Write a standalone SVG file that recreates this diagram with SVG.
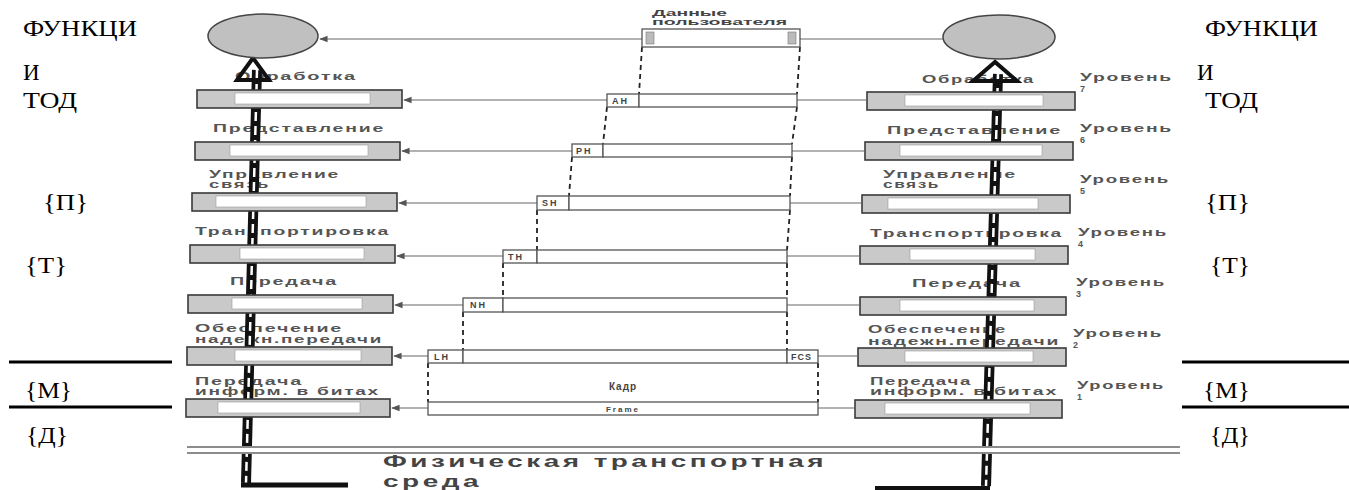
<svg xmlns="http://www.w3.org/2000/svg" width="1349" height="490" viewBox="0 0 1349 490">
<defs>
<style>
.side{font-family:"Liberation Serif","Times New Roman",serif;font-size:23px;fill:#000}
.lbl{font-family:"Liberation Sans",Arial,sans-serif;font-size:11px;font-weight:bold;fill:#555;letter-spacing:1px}
.dig{font-family:"Liberation Sans",Arial,sans-serif;font-size:9px;font-weight:bold;fill:#555}
.hdr{font-family:"Liberation Sans",Arial,sans-serif;font-size:9px;font-weight:bold;fill:#444;letter-spacing:2px}
.box{fill:#c9c9c9;stroke:#3a3a3a;stroke-width:1.6}
.inner{fill:#fff;stroke:#999;stroke-width:0.6}
.mbox{fill:#fff;stroke:#555;stroke-width:1.3}
.conn{stroke:#666;stroke-width:1.2;fill:none}
.dash{stroke:#222;stroke-width:1.8;stroke-dasharray:5 4;fill:none}
.rule{stroke:#000;stroke-width:3}
.ell{fill:#c0c0c0;stroke:#444;stroke-width:1.5}
.bar{stroke:#111;stroke-width:10;fill:none}
.barin{stroke:#fff;stroke-width:2.5;stroke-dasharray:9 5;fill:none}
.phys{font-family:"Liberation Sans",Arial,sans-serif;font-size:16px;font-weight:bold;fill:#444;letter-spacing:2px}
.ground{stroke:#666;stroke-width:1.5;fill:none}
</style>
<marker id="ah" viewBox="0 0 10 10" refX="9" refY="5" markerWidth="7" markerHeight="7" orient="auto"><path d="M0,1 L10,5 L0,9 z" fill="#555"/></marker>
</defs>
<rect width="1349" height="490" fill="#fff"/>

<g id="side-left">
<text class="side" x="23" y="36" textLength="114" lengthAdjust="spacingAndGlyphs">ФУНКЦИ</text>
<text class="side" x="23" y="80">И</text>
<text class="side" x="23" y="108" textLength="54" lengthAdjust="spacingAndGlyphs">ТОД</text>
<text class="side" x="43" y="210" textLength="45" lengthAdjust="spacingAndGlyphs">{П}</text>
<text class="side" x="25" y="273" textLength="42" lengthAdjust="spacingAndGlyphs">{Т}</text>
<line class="rule" x1="9" y1="362" x2="172" y2="362"/>
<text class="side" x="25" y="398" textLength="47" lengthAdjust="spacingAndGlyphs">{М}</text>
<line class="rule" x1="9" y1="407" x2="172" y2="407"/>
<text class="side" x="26" y="443" textLength="42" lengthAdjust="spacingAndGlyphs">{Д}</text>
</g>

<g id="side-right">
<text class="side" x="1205" y="36" textLength="113" lengthAdjust="spacingAndGlyphs">ФУНКЦИ</text>
<text class="side" x="1197" y="80">И</text>
<text class="side" x="1205" y="108" textLength="53" lengthAdjust="spacingAndGlyphs">ТОД</text>
<text class="side" x="1205" y="210" textLength="45" lengthAdjust="spacingAndGlyphs">{П}</text>
<text class="side" x="1210" y="273" textLength="40" lengthAdjust="spacingAndGlyphs">{Т}</text>
<line class="rule" x1="1182" y1="362" x2="1349" y2="362"/>
<text class="side" x="1203" y="398" textLength="47" lengthAdjust="spacingAndGlyphs">{М}</text>
<line class="rule" x1="1182" y1="407" x2="1349" y2="407"/>
<text class="side" x="1210" y="443" textLength="40" lengthAdjust="spacingAndGlyphs">{Д}</text>
</g>

<g id="labels-left">
<text class="lbl" x="235" y="80" textLength="122" lengthAdjust="spacingAndGlyphs">Обработка</text>
<text class="lbl" x="213" y="132" textLength="172" lengthAdjust="spacingAndGlyphs">Представление</text>
<text class="lbl" x="209" y="178" textLength="131" lengthAdjust="spacingAndGlyphs">Управление</text>
<text class="lbl" x="209" y="188" textLength="61" lengthAdjust="spacingAndGlyphs">связь</text>
<text class="lbl" x="195" y="235" textLength="195" lengthAdjust="spacingAndGlyphs">Транспортировка</text>
<text class="lbl" x="230" y="285" textLength="108" lengthAdjust="spacingAndGlyphs">Передача</text>
<text class="lbl" x="195" y="332" textLength="148" lengthAdjust="spacingAndGlyphs">Обеспечение</text>
<text class="lbl" x="195" y="343" textLength="188" lengthAdjust="spacingAndGlyphs">надежн.передачи</text>
<text class="lbl" x="195" y="385" textLength="108" lengthAdjust="spacingAndGlyphs">Передача</text>
<text class="lbl" x="195" y="395" textLength="185" lengthAdjust="spacingAndGlyphs">информ. в битах</text>
</g>

<g id="labels-right">
<text class="lbl" x="922" y="83" textLength="113" lengthAdjust="spacingAndGlyphs">Обработка</text>
<text class="lbl" x="887" y="134" textLength="175" lengthAdjust="spacingAndGlyphs">Представление</text>
<text class="lbl" x="883" y="178" textLength="134" lengthAdjust="spacingAndGlyphs">Управление</text>
<text class="lbl" x="883" y="188" textLength="57" lengthAdjust="spacingAndGlyphs">связь</text>
<text class="lbl" x="870" y="237" textLength="193" lengthAdjust="spacingAndGlyphs">Транспортировка</text>
<text class="lbl" x="912" y="287" textLength="110" lengthAdjust="spacingAndGlyphs">Передача</text>
<text class="lbl" x="868" y="333" textLength="139" lengthAdjust="spacingAndGlyphs">Обеспечение</text>
<text class="lbl" x="868" y="345" textLength="192" lengthAdjust="spacingAndGlyphs">надежн.передачи</text>
<text class="lbl" x="870" y="385" textLength="102" lengthAdjust="spacingAndGlyphs">Передача</text>
<text class="lbl" x="870" y="395" textLength="188" lengthAdjust="spacingAndGlyphs">информ. в битах</text>
</g>

<g id="levels">
<text class="lbl" x="1080" y="81" textLength="93" lengthAdjust="spacingAndGlyphs">Уровень</text><text class="dig" x="1080" y="92">7</text>
<text class="lbl" x="1080" y="132" textLength="93" lengthAdjust="spacingAndGlyphs">Уровень</text><text class="dig" x="1080" y="143">6</text>
<text class="lbl" x="1080" y="183" textLength="90" lengthAdjust="spacingAndGlyphs">Уровень</text><text class="dig" x="1080" y="194">5</text>
<text class="lbl" x="1078" y="236" textLength="90" lengthAdjust="spacingAndGlyphs">Уровень</text><text class="dig" x="1078" y="247">4</text>
<text class="lbl" x="1076" y="286" textLength="90" lengthAdjust="spacingAndGlyphs">Уровень</text><text class="dig" x="1076" y="297">3</text>
<text class="lbl" x="1073" y="337" textLength="90" lengthAdjust="spacingAndGlyphs">Уровень</text><text class="dig" x="1073" y="348">2</text>
<text class="lbl" x="1077" y="389" textLength="88" lengthAdjust="spacingAndGlyphs">Уровень</text><text class="dig" x="1077" y="400">1</text>
</g>

<g id="stack-arrow-left">
<line class="bar" x1="257" y1="70" x2="246" y2="483"/>
<line class="barin" x1="257" y1="70" x2="246" y2="483"/>
<line stroke="#111" stroke-width="5" x1="241" y1="485" x2="348" y2="485"/>
<polygon points="253,58 237,80 269,80" fill="none" stroke="#111" stroke-width="4" stroke-linejoin="miter"/>
</g>

<g id="stack-arrow-right">
<line class="bar" x1="998" y1="74" x2="986" y2="486"/>
<line class="barin" x1="998" y1="74" x2="986" y2="486"/>
<line stroke="#111" stroke-width="4" x1="875" y1="488" x2="990" y2="488"/>
<polygon points="995,62 973,81 1017,81" fill="none" stroke="#111" stroke-width="4"/>
</g>

<g id="medium">
<rect x="187" y="446" width="993" height="8" fill="#fff"/>
<line class="ground" x1="187" y1="447" x2="1180" y2="447"/>
<line class="ground" x1="187" y1="453" x2="1180" y2="453"/>
<text class="phys" x="383" y="467" textLength="444" lengthAdjust="spacingAndGlyphs">Физическая транспортная</text>
<text class="phys" x="383" y="487" textLength="99" lengthAdjust="spacingAndGlyphs">среда</text>
</g>

<g id="ellipse-left"><ellipse class="ell" cx="263" cy="36" rx="55" ry="22"/></g>
<g id="ellipse-right"><ellipse class="ell" cx="999" cy="37" rx="56" ry="22"/></g>

<g id="left-boxes">
<g id="L7"><rect class="box" x="197" y="90" width="205" height="18"/><rect class="inner" x="235" y="93" width="135" height="11"/></g>
<g id="L6"><rect class="box" x="195" y="142" width="205" height="18"/><rect class="inner" x="230" y="145" width="138" height="11"/></g>
<g id="L5"><rect class="box" x="192" y="193" width="205" height="18"/><rect class="inner" x="216" y="196" width="150" height="11"/></g>
<g id="L4"><rect class="box" x="190" y="245" width="205" height="18"/><rect class="inner" x="240" y="248" width="124" height="11"/></g>
<g id="L3"><rect class="box" x="188" y="295" width="205" height="18"/><rect class="inner" x="232" y="298" width="130" height="11"/></g>
<g id="L2"><rect class="box" x="187" y="347" width="205" height="18"/><rect class="inner" x="235" y="350" width="126" height="11"/></g>
<g id="L1"><rect class="box" x="186" y="399" width="204" height="18"/><rect class="inner" x="218" y="402" width="142" height="11"/></g>
</g>

<g id="right-boxes">
<g id="R7"><rect class="box" x="867" y="92" width="208" height="18"/><rect class="inner" x="905" y="95" width="138" height="11"/></g>
<g id="R6"><rect class="box" x="865" y="142" width="208" height="18"/><rect class="inner" x="900" y="145" width="142" height="11"/></g>
<g id="R5"><rect class="box" x="862" y="195" width="208" height="18"/><rect class="inner" x="888" y="198" width="150" height="11"/></g>
<g id="R4"><rect class="box" x="860" y="246" width="208" height="18"/><rect class="inner" x="910" y="249" width="125" height="11"/></g>
<g id="R3"><rect class="box" x="860" y="297" width="206" height="18"/><rect class="inner" x="900" y="300" width="134" height="11"/></g>
<g id="R2"><rect class="box" x="858" y="348" width="208" height="18"/><rect class="inner" x="905" y="351" width="128" height="11"/></g>
<g id="R1"><rect class="box" x="855" y="400" width="207" height="18"/><rect class="inner" x="885" y="403" width="145" height="11"/></g>
</g>

<g id="connectors">
<line class="conn" x1="642" y1="39" x2="320" y2="39" marker-end="url(#ah)"/>
<line class="conn" x1="800" y1="39" x2="943" y2="39"/>
<line class="conn" x1="607" y1="100" x2="404" y2="100" marker-end="url(#ah)"/>
<line class="conn" x1="797" y1="100" x2="867" y2="100"/>
<line class="conn" x1="572" y1="151" x2="402" y2="151" marker-end="url(#ah)"/>
<line class="conn" x1="792" y1="151" x2="865" y2="151"/>
<line class="conn" x1="537" y1="203" x2="399" y2="203" marker-end="url(#ah)"/>
<line class="conn" x1="790" y1="203" x2="862" y2="203"/>
<line class="conn" x1="503" y1="256" x2="397" y2="256" marker-end="url(#ah)"/>
<line class="conn" x1="787" y1="256" x2="860" y2="256"/>
<line class="conn" x1="463" y1="305" x2="395" y2="305" marker-end="url(#ah)"/>
<line class="conn" x1="787" y1="305" x2="860" y2="305"/>
<line class="conn" x1="428" y1="356" x2="394" y2="356" marker-end="url(#ah)"/>
<line class="conn" x1="818" y1="356" x2="858" y2="356"/>
<line class="conn" x1="428" y1="408" x2="392" y2="408" marker-end="url(#ah)"/>
<line class="conn" x1="818" y1="408" x2="855" y2="408"/>
<path class="dash" d="M642,47 L639,94 M800,47 L797,94 M607,107 L603,144 M797,107 L792,144 M572,157 L569,196 M792,157 L790,196 M537,210 L537,250 M790,210 L787,250 M503,263 L503,298 M787,263 L787,298 M463,312 L463,350 M787,312 L787,350 M428,363 L428,402 M818,363 L818,402"/>
</g>

<g id="user-data">
<text class="hdr" x="652" y="16" textLength="75" lengthAdjust="spacingAndGlyphs" style="letter-spacing:0">Данные</text>
<text class="hdr" x="652" y="25" textLength="135" lengthAdjust="spacingAndGlyphs" style="letter-spacing:0">пользователя</text>
<rect class="mbox" x="642" y="29" width="158" height="18"/>
<rect x="646" y="32" width="8" height="12" fill="#bbb" stroke="#777" stroke-width="0.6"/>
<rect x="788" y="32" width="8" height="12" fill="#bbb" stroke="#777" stroke-width="0.6"/>
</g>

<g id="pdu-7"><rect class="mbox" x="607" y="94" width="32" height="13"/><rect class="mbox" x="639" y="94" width="158" height="13"/><text class="hdr" x="612" y="104">AH</text></g>
<g id="pdu-6"><rect class="mbox" x="572" y="144" width="31" height="13"/><rect class="mbox" x="603" y="144" width="189" height="13"/><text class="hdr" x="576" y="154">PH</text></g>
<g id="pdu-5"><rect class="mbox" x="537" y="196" width="32" height="14"/><rect class="mbox" x="569" y="196" width="221" height="14"/><text class="hdr" x="542" y="206">SH</text></g>
<g id="pdu-4"><rect class="mbox" x="503" y="250" width="34" height="13"/><rect class="mbox" x="537" y="250" width="250" height="13"/><text class="hdr" x="508" y="260">TH</text></g>
<g id="pdu-3"><rect class="mbox" x="463" y="298" width="40" height="14"/><rect class="mbox" x="503" y="298" width="284" height="14"/><text class="hdr" x="470" y="308">NH</text></g>
<g id="pdu-2"><rect class="mbox" x="428" y="350" width="35" height="13"/><rect class="mbox" x="463" y="350" width="324" height="13"/><rect class="mbox" x="787" y="350" width="31" height="13"/><text class="hdr" x="434" y="360">LH</text><text class="hdr" x="791" y="360" style="letter-spacing:1px">FCS</text></g>
<g id="pdu-1"><text class="hdr" x="623" y="390" text-anchor="middle" style="font-size:10px;letter-spacing:1px">Кадр</text><rect class="mbox" x="428" y="402" width="390" height="13"/><text class="hdr" x="623" y="412" text-anchor="middle" style="font-size:8px">Frame</text></g>
</svg>
